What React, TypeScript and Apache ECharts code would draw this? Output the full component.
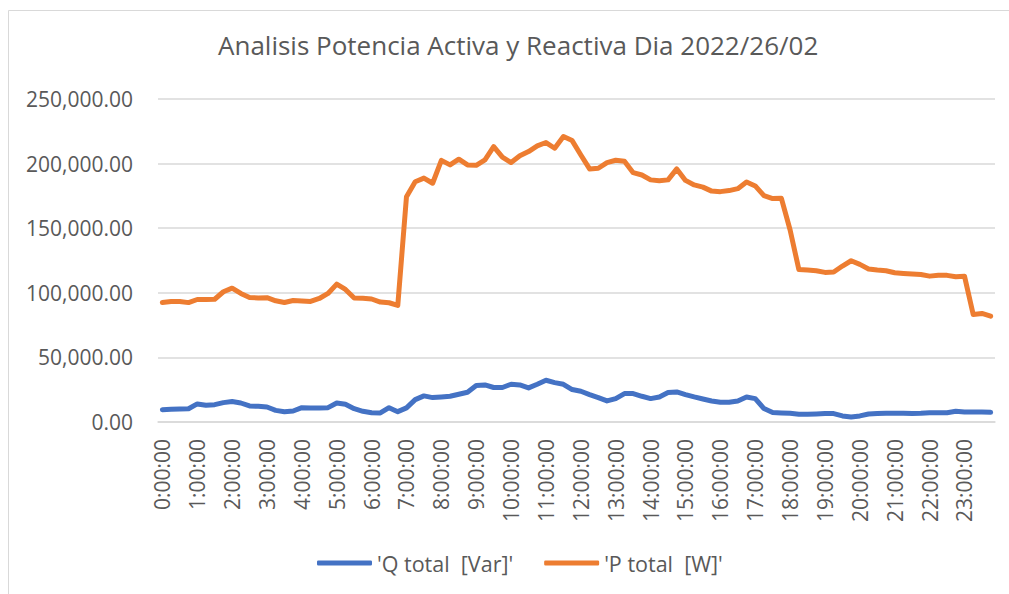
import React, { useEffect, useRef } from "react";
import * as echarts from "echarts";

const hours: number[] = Array.from({ length: 24 }, (_, h) => h);
const minutes: string[] = ["00", "15", "30", "45"];
const times: string[] = hours.flatMap((h) => minutes.map((m) => `${h}:${m}:00`));

const yTicks: number[] = [0, 50000, 100000, 150000, 200000, 250000];

const qTotal: number[] = [
  9500, 9800, 10100, 10300, 14000, 12900, 13400, 15000, 15800, 14700, 12400, 12100,
  11600, 9000, 8000, 8500, 11100, 10900, 10900, 11100, 14700, 13700, 10300, 8300,
  7200, 7000, 11100, 8000, 10900, 17300, 20200, 18900, 19400, 19900, 21500, 23000,
  28200, 28700, 26700, 26700, 29200, 28700, 26400, 29200, 32300, 30500, 29200, 25100,
  23800, 21200, 18900, 16300, 18100, 22000, 22000, 19900, 18100, 19400, 22800, 23300,
  21200, 19400, 17800, 16300, 15300, 15300, 16300, 19400, 18100, 10400, 7300, 7000,
  6700, 6000, 6000, 6200, 6500, 6500, 4700, 3900, 4700, 6200, 6500, 6700,
  6700, 6700, 6500, 6700, 7200, 7200, 7200, 8300, 7800, 7800, 7800, 7500,
];

const pTotal: number[] = [
  92500, 93200, 93300, 92400, 94800, 94800, 95000, 100800, 103600, 99500, 96400, 96000,
  96200, 93800, 92500, 94000, 93700, 93300, 95600, 99500, 106700, 102600, 96000, 95700,
  95200, 92800, 92300, 90200, 174400, 186000, 188800, 184800, 202500, 199000, 203400, 199000,
  198700, 202900, 213200, 205000, 200800, 206000, 209300, 213700, 216300, 211900, 220900, 217800,
  206700, 195900, 196400, 200800, 202600, 201900, 193000, 191200, 187400, 186700, 187400, 195900,
  187000, 183500, 181800, 178700, 178300, 179100, 180600, 185800, 182700, 175200, 172900, 173100,
  148600, 118100, 117600, 117100, 115800, 116100, 120700, 124800, 122000, 118400, 117600, 117100,
  115500, 115000, 114500, 114100, 112900, 113500, 113500, 112400, 112900, 83200, 84000, 81900,
];

const seriesNames: string[] = ["'Q total  [Var]'", "'P total  [W]'"];
const titleText = "Analisis Potencia Activa y Reactiva Dia 2022/26/02";

const FONT = "'Open Sans', 'Noto Sans', sans-serif";
const TEXT = "#595959";

export default function App() {
  const ref = useRef<HTMLDivElement>(null);
  useEffect(() => {
    if (!ref.current) return;
    const chart = echarts.init(ref.current, null, { renderer: "svg" });
    chart.setOption({
      animation: false,
      backgroundColor: "#ffffff",
      textStyle: { fontFamily: FONT },
      title: {
        text: titleText,
        left: 213,
        top: 27,
        textStyle: { color: TEXT, fontSize: 26, fontWeight: "normal", fontFamily: FONT },
      },
      graphic: [
        {
          type: "rect",
          shape: { x: 8.5, y: 10.5, width: 1200, height: 800 },
          style: { fill: "none", stroke: "#d9d9d9", lineWidth: 1 },
          silent: true,
        },
      ],
      legend: {
        data: seriesNames,
        left: 312,
        top: 547,
        icon: "roundRect",
        itemWidth: 55,
        itemHeight: 5,
        itemGap: 31,
        textStyle: { color: TEXT, fontSize: 21.5, fontFamily: FONT },
      },
      grid: { left: 158, right: 14, top: 99, bottom: 172 },
      xAxis: {
        type: "category",
        data: times,
        boundaryGap: true,
        axisLine: { show: true, lineStyle: { color: "#d9d9d9", width: 1.5 } },
        axisTick: { show: false },
        axisLabel: {
          interval: 3,
          rotate: 90,
          margin: 17,
          color: TEXT,
          fontSize: 21,
          fontFamily: FONT,
        },
      },
      yAxis: {
        type: "value",
        min: yTicks[0],
        max: yTicks[yTicks.length - 1],
        interval: yTicks[1] - yTicks[0],
        axisLine: { show: false },
        axisTick: { show: false },
        splitLine: { lineStyle: { color: "#d9d9d9", width: 1.5 } },
        axisLabel: {
          margin: 25,
          color: TEXT,
          fontSize: 21,
          fontFamily: FONT,
          formatter: (v: number) =>
            v.toLocaleString("en-US", { minimumFractionDigits: 2, maximumFractionDigits: 2 }),
        },
      },
      series: [
        {
          name: seriesNames[0],
          type: "line",
          data: qTotal,
          symbol: "none",
          color: "#4472C4",
          lineStyle: { width: 5, color: "#4472C4", cap: "round", join: "round" },
        },
        {
          name: seriesNames[1],
          type: "line",
          data: pTotal,
          symbol: "none",
          color: "#ED7D31",
          lineStyle: { width: 5, color: "#ED7D31", cap: "round", join: "round" },
        },
      ],
    });
    return () => chart.dispose();
  }, []);
  return (
    <div
      ref={ref}
      style={{ position: "fixed", left: 0, top: 0, width: 1009, height: 594, background: "#fff" }}
    />
  );
}
